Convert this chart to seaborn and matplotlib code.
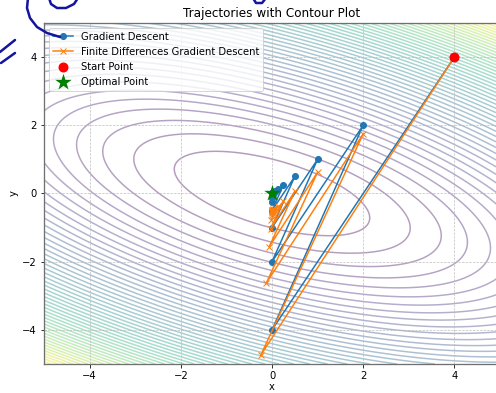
import numpy as np
import matplotlib
matplotlib.use("Agg")
import matplotlib.pyplot as plt
from matplotlib.lines import Line2D
import seaborn as sns

# quadratic bowl behind the trajectories: f = a*x^2 + b*x*y + c*y^2
coef_xx, coef_xy, coef_yy = 0.5, 1.0, 1.5

# plain gradient descent path
gd_x = [4, 0, 2, 0, 1, 0, 0.5, 0, 0.25, 0, 0.125, 0, 0.0625, 0, 0.031, 0, 0.016, 0, 0.008, 0, 0.004]
gd_y = [4, -4, 2, -2, 1, -1, 0.5, -0.5, 0.25, -0.25, 0.125, -0.125, 0.0625, -0.0625, 0.031, -0.031,
        0.016, -0.016, 0.008, -0.008, 0.004]

# finite differences path - ends up a bit below the optimum
fd_x = [4, -0.25, 2.0, -0.125, 1.0, -0.0625, 0.5, -0.031, 0.25, -0.016, 0.125, -0.008, 0.0625, -0.004,
        0.031, -0.002, 0.016, -0.001, 0.008, 0.0, 0.004]
fd_y = [4, -4.75, 1.75, -2.625, 0.625, -1.5625, 0.0625, -1.031, -0.219, -0.766, -0.359, -0.633, -0.430,
        -0.566, -0.465, -0.533, -0.483, -0.517, -0.492, -0.508, -0.496]

start_point = [4, 4]
optimal_point = [0, 0]
tick_vals = [-4, -2, 0, 2, 4]

# ink scribbles on the screenshot (pixels from top-left)
scribbles = [
    [(28, -2), (27, 8), (30, 18), (37, 27), (47, 33), (60, 37)],
    [(49, -2), (51, 4), (57, 8), (66, 8), (74, 4), (78, -2)],
    [(0, 52), (15, 40)],
    [(1, 63), (15, 53)],
    [(253, -2), (256, 3), (262, 3), (266, -2)],
]

W, H = 496, 393
fig = plt.figure(figsize=(W / 72, H / 72), dpi=72)
ax = fig.add_axes([44 / W, 29 / H, 456 / W, 341 / H])

grid = np.linspace(-5, 5, 300)
X, Y = np.meshgrid(grid, grid)
Z = coef_xx * X ** 2 + coef_xy * X * Y + coef_yy * Y ** 2
ax.contour(X, Y, Z, levels=np.linspace(Z.min(), Z.max(), 50), cmap="viridis", alpha=0.4, zorder=1)

blue, orange = sns.color_palette("tab10")[:2]
sns.lineplot(x=gd_x, y=gd_y, sort=False, estimator=None, marker="o", color=blue,
             markeredgecolor=blue, markeredgewidth=1, markersize=6, linewidth=1.5,
             label="Gradient Descent", ax=ax)
sns.lineplot(x=fd_x, y=fd_y, sort=False, estimator=None, marker="x", color=orange,
             markeredgecolor=orange, markeredgewidth=1, markersize=6, linewidth=1.5,
             label="Finite Differences Gradient Descent", ax=ax)
sns.scatterplot(x=[start_point[0]], y=[start_point[1]], color="red", s=100, linewidth=0,
                label="Start Point", zorder=3, ax=ax)
sns.scatterplot(x=[optimal_point[0]], y=[optimal_point[1]], color="green", marker="*", s=300,
                linewidth=0, label="Optimal Point", zorder=3, ax=ax)

ax.set_xlim(-5, 5)
ax.set_ylim(-5, 5)
ax.set_xticks(tick_vals)
ax.set_yticks(tick_vals)
ax.grid(True, linestyle=(0, (3, 1.5)), color="#b8b8b8", linewidth=0.8, alpha=0.8)
for sp in ax.spines.values():
    sp.set_color("#707070")
    sp.set_linewidth(1.3)
ax.set_title("Trajectories with Contour Plot", fontsize=12)
ax.set_xlabel("x", labelpad=1.5)
ax.set_ylabel("y")
ax.legend(loc="upper left")

for stroke in scribbles:
    xs = [p[0] / W for p in stroke]
    ys = [1 - p[1] / H for p in stroke]
    fig.add_artist(Line2D(xs, ys, transform=fig.transFigure, color="#1414a0", lw=2.5,
                          solid_capstyle="round"))

fig.savefig("out.png", dpi=72)
